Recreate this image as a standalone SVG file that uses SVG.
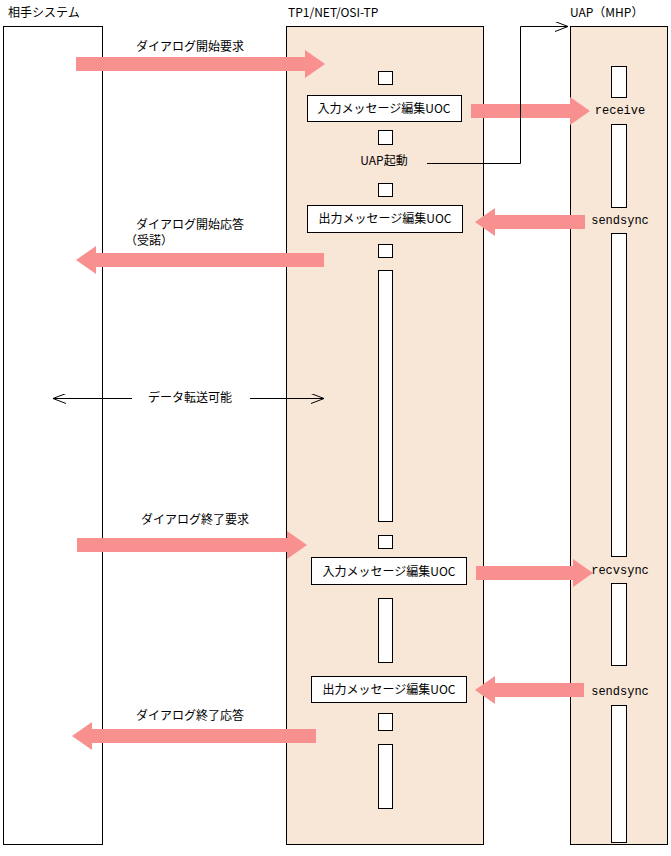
<svg xmlns="http://www.w3.org/2000/svg" width="671" height="856" viewBox="0 0 671 856">
<style>
text{font-family:"Noto Sans CJK JP","DejaVu Sans",sans-serif;font-size:12px;fill:#000}
.m{text-anchor:middle}
.lane{stroke:#000;stroke-width:1}
.box{fill:#fff;stroke:#000;stroke-width:1}
.pa{fill:#f99090}
.ln{fill:none;stroke:#000;stroke-width:1}
</style>
<defs>
<marker id="oa" markerWidth="14" markerHeight="10" refX="13" refY="5" orient="auto-start-reverse" markerUnits="userSpaceOnUse"><path d="M0,0 L13,5 L0,10" fill="none" stroke="#000"/></marker>
</defs>
<rect width="671" height="856" fill="#fff"/>
<g id="sys"><rect class="lane" x="3.5" y="26.5" width="99" height="818" fill="#fff"/><text x="8" y="17">相手システム</text></g>
<g id="tp"><rect class="lane" x="286.5" y="26.5" width="197" height="818" fill="#f8e6d7"/><text x="288" y="17">TP1/NET/OSI-TP</text></g>
<g id="uap"><rect class="lane" x="570.5" y="26.5" width="97" height="818" fill="#f8e6d7"/><text x="570" y="17">UAP（MHP）</text></g>
<g id="tpact">
<rect class="box" x="378.5" y="71.5" width="14" height="13"/>
<rect class="box" x="378.5" y="130.5" width="14" height="14"/>
<rect class="box" x="378.5" y="183.5" width="14" height="13"/>
<rect class="box" x="378.5" y="244.5" width="14" height="13"/>
<rect class="box" x="378.5" y="270.5" width="14" height="251"/>
<rect class="box" x="378.5" y="535.5" width="14" height="13"/>
<rect class="box" x="378.5" y="598.5" width="14" height="64"/>
<rect class="box" x="378.5" y="713.5" width="14" height="17"/>
<rect class="box" x="378.5" y="744.5" width="14" height="64"/>
</g>
<g id="uapact">
<rect class="box" x="611.5" y="66.5" width="15" height="31"/>
<rect class="box" x="611.5" y="124.5" width="15" height="83"/>
<rect class="box" x="611.5" y="233.5" width="15" height="323"/>
<rect class="box" x="611.5" y="583.5" width="15" height="82"/>
<rect class="box" x="611.5" y="705.5" width="15" height="137"/>
</g>
<g id="uoc1"><rect class="box" x="307.5" y="95.5" width="154" height="26"/><text class="m" x="384" y="113">入力メッセージ編集UOC</text></g>
<g id="uoc2"><rect class="box" x="307.5" y="205.5" width="155" height="27"/><text class="m" x="385" y="223">出力メッセージ編集UOC</text></g>
<g id="uoc3"><rect class="box" x="311.5" y="557.5" width="155" height="27"/><text class="m" x="389" y="576">入力メッセージ編集UOC</text></g>
<g id="uoc4"><rect class="box" x="311.5" y="676.5" width="155" height="26"/><text class="m" x="389" y="694">出力メッセージ編集UOC</text></g>
<g id="connectors">
<path class="pa" d="M76,57 H305 V50 L325,64 L305,78 V71 H76 Z"/>
<path class="pa" d="M471,104 H570 V97 L590,111 L570,125 V118 H471 Z"/>
<path class="pa" d="M585,215 H495 V208 L475,222 L495,236 V229 H585 Z"/>
<path class="pa" d="M324,253 H96 V246 L76,260 L96,274 V267 H324 Z"/>
<path class="pa" d="M77,538 H287 V531 L307,545 L287,559 V552 H77 Z"/>
<path class="pa" d="M476,566 H573 V559 L593,573 L573,587 V580 H476 Z"/>
<path class="pa" d="M584,683 H495 V676 L475,690 L495,704 V697 H584 Z"/>
<path class="pa" d="M316,729 H92 V722 L72,736 L92,750 V743 H316 Z"/>
<path class="ln" d="M427,163.5 H520.5 V26.5 H568" marker-end="url(#oa)"/>
<path class="ln" d="M132,398.5 H53" marker-end="url(#oa)"/>
<path class="ln" d="M250,398.5 H324" marker-end="url(#oa)"/>
</g>
<g id="labels">
<text class="m" x="190" y="51">ダイアログ開始要求</text>
<text x="620" y="114" class="m" style="font-family:'Liberation Mono',monospace">receive</text>
<text class="m" x="384" y="165">UAP起動</text>
<text x="620" y="224" class="m" style="font-family:'Liberation Mono',monospace">sendsync</text>
<text class="m" x="190" y="229">ダイアログ開始応答</text>
<text x="125" y="245">（受諾）</text>
<text class="m" x="190" y="402">データ転送可能</text>
<text class="m" x="195" y="524">ダイアログ終了要求</text>
<text x="620" y="574" class="m" style="font-family:'Liberation Mono',monospace">recvsync</text>
<text x="620" y="695" class="m" style="font-family:'Liberation Mono',monospace">sendsync</text>
<text class="m" x="190" y="720">ダイアログ終了応答</text>
</g>
</svg>
